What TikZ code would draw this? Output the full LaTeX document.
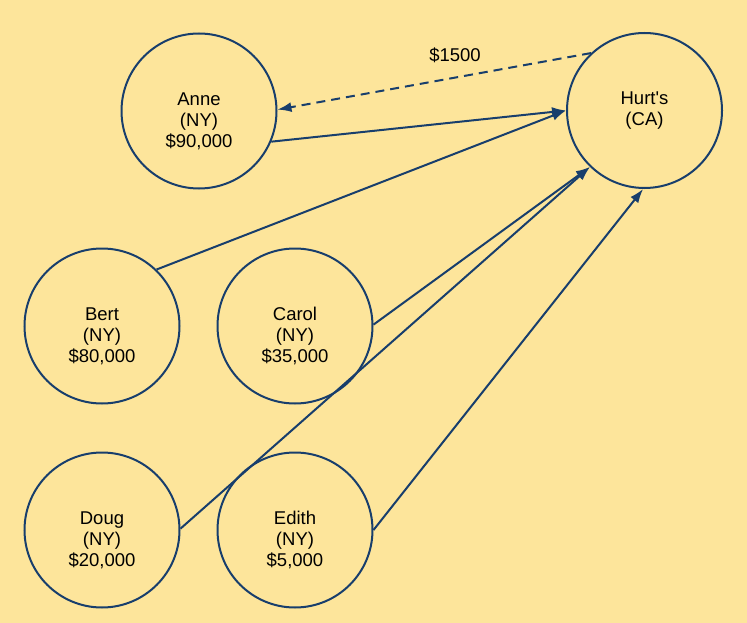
\documentclass[tikz,border=0pt]{standalone}
\usepackage{fontspec}
\setmainfont{Liberation Sans}
\usetikzlibrary{arrows.meta}
\definecolor{paper}{RGB}{253,229,155}
\definecolor{ink}{RGB}{24,62,108}
\begin{document}
\begin{tikzpicture}[x=1pt,y=-1pt,
        person/.style={draw=ink, line width=2pt, circle, minimum size=155pt, inner sep=0pt},
        who/.style={align=center, font=\fontsize{18.5}{21}\selectfont, inner sep=0pt},
        pays/.style={draw=ink, line width=2pt, -{Latex[length=14pt,width=10pt]}}]
        \fill[paper] (0,0) rectangle (747,623);
        \useasboundingbox (0,0) rectangle (747,623);

        \node[person] (anne) at (199,111) {};
        \node[person] (hurts) at (644.5,110.5) {};
        \node[person] (bert) at (102,326) {};
        \node[person] (carol) at (295,326) {};
        \node[person] (doug) at (102,530) {};
        \node[person] (edith) at (295,530) {};

        \node[who] (annetxt) at (199,121) {Anne\\(NY)\\\$90,000};
        \node[who] (hurtstxt) at (644.5,110.5) {Hurt\textquotesingle s\\(CA)};
        \node[who] (berttxt) at (102,336) {Bert\\(NY)\\\$80,000};
        \node[who] (caroltxt) at (295,336) {Carol\\(NY)\\\$35,000};
        \node[who] (dougtxt) at (102,540) {Doug\\(NY)\\\$20,000};
        \node[who] (edithtxt) at (295,540) {Edith\\(NY)\\\$5,000};

        \draw[pays] (anne.-23) -- (hurts.180);
        \draw[pays] (bert.46) -- (hurts.180);
        \draw[pays] (carol.1) -- (hurts.226);
        \draw[pays] (doug.1) -- (hurts.226);
        \draw[pays] (edith.0) -- (hurts.269);
        \draw[pays, dash pattern=on 9pt off 6pt] (hurts.133) -- (anne.1.5);
        \node[who] (fee) at (455,55) {\$1500};
    \end{tikzpicture}
\end{document}
